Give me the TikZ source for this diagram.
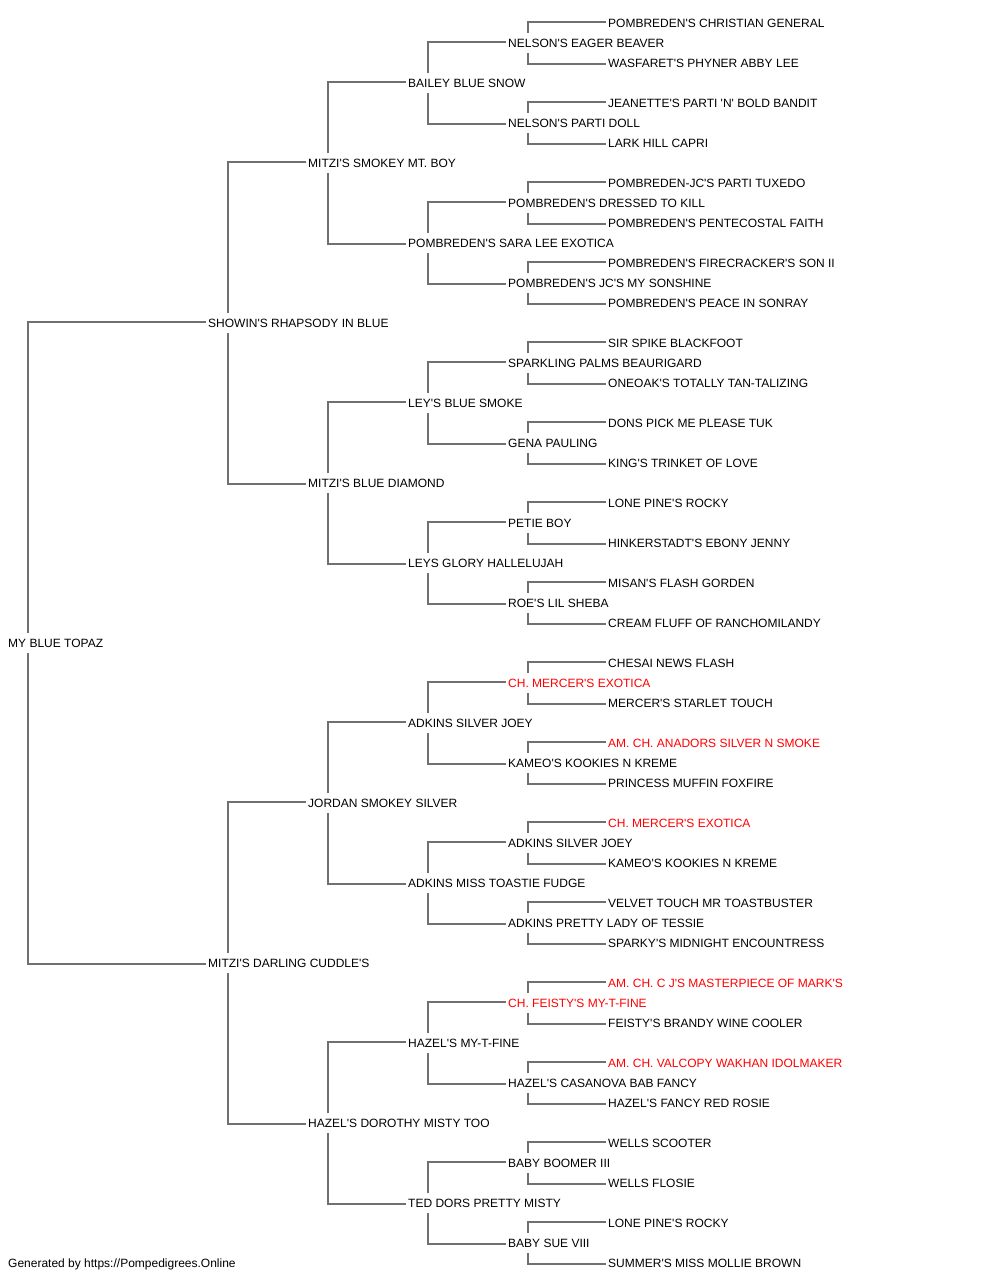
\documentclass[tikz,border=0pt]{standalone}
\usepackage{fontspec}
\setmainfont{Liberation Sans}
\newcommand\apos{\XeTeXglyph\XeTeXglyphindex "quotesingle"\relax}
\begin{document}
\begin{tikzpicture}[x=1pt,y=-1pt,
  dog/.style={anchor=west,inner sep=0pt,text height=8.6pt,text depth=0pt,font=\fontsize{12pt}{14pt}\selectfont},
  champ/.style={dog,text={rgb,255:red,255;green,0;blue,0}},
  conn/.style={draw={rgb,255:red,112;green,112;blue,112},line width=1.1pt}]
\useasboundingbox (0,0) rectangle (1000,1280);
% generation 0
\node[dog] (n0-1) at (8,643) {MY BLUE TOPAZ};
% generation 1
\node[dog] (n1-1) at (208,323) {SHOWIN\apos S RHAPSODY IN BLUE};
\node[dog] (n1-2) at (208,963) {MITZI\apos S DARLING CUDDLE\apos S};
% generation 2
\node[dog] (n2-1) at (308,163) {MITZI\apos S SMOKEY MT. BOY};
\node[dog] (n2-2) at (308,483) {MITZI\apos S BLUE DIAMOND};
\node[dog] (n2-3) at (308,803) {JORDAN SMOKEY SILVER};
\node[dog] (n2-4) at (308,1123) {HAZEL\apos S DOROTHY MISTY TOO};
% generation 3
\node[dog] (n3-1) at (408,83) {BAILEY BLUE SNOW};
\node[dog] (n3-2) at (408,243) {POMBREDEN\apos S SARA LEE EXOTICA};
\node[dog] (n3-3) at (408,403) {LEY\apos S BLUE SMOKE};
\node[dog] (n3-4) at (408,563) {LEYS GLORY HALLELUJAH};
\node[dog] (n3-5) at (408,723) {ADKINS SILVER JOEY};
\node[dog] (n3-6) at (408,883) {ADKINS MISS TOASTIE FUDGE};
\node[dog] (n3-7) at (408,1043) {HAZEL\apos S MY-T-FINE};
\node[dog] (n3-8) at (408,1203) {TED DORS PRETTY MISTY};
% generation 4
\node[dog] (n4-1) at (508,43) {NELSON\apos S EAGER BEAVER};
\node[dog] (n4-2) at (508,123) {NELSON\apos S PARTI DOLL};
\node[dog] (n4-3) at (508,203) {POMBREDEN\apos S DRESSED TO KILL};
\node[dog] (n4-4) at (508,283) {POMBREDEN\apos S JC\apos S MY SONSHINE};
\node[dog] (n4-5) at (508,363) {SPARKLING PALMS BEAURIGARD};
\node[dog] (n4-6) at (508,443) {GENA PAULING};
\node[dog] (n4-7) at (508,523) {PETIE BOY};
\node[dog] (n4-8) at (508,603) {ROE\apos S LIL SHEBA};
\node[champ] (n4-9) at (508,683) {CH. MERCER\apos S EXOTICA};
\node[dog] (n4-10) at (508,763) {KAMEO\apos S KOOKIES N KREME};
\node[dog] (n4-11) at (508,843) {ADKINS SILVER JOEY};
\node[dog] (n4-12) at (508,923) {ADKINS PRETTY LADY OF TESSIE};
\node[champ] (n4-13) at (508,1003) {CH. FEISTY\apos S MY-T-FINE};
\node[dog] (n4-14) at (508,1083) {HAZEL\apos S CASANOVA BAB FANCY};
\node[dog] (n4-15) at (508,1163) {BABY BOOMER III};
\node[dog] (n4-16) at (508,1243) {BABY SUE VIII};
% generation 5
\node[dog] (n5-1) at (608,23) {POMBREDEN\apos S CHRISTIAN GENERAL};
\node[dog] (n5-2) at (608,63) {WASFARET\apos S PHYNER ABBY LEE};
\node[dog] (n5-3) at (608,103) {JEANETTE\apos S PARTI \apos N\apos{} BOLD BANDIT};
\node[dog] (n5-4) at (608,143) {LARK HILL CAPRI};
\node[dog] (n5-5) at (608,183) {POMBREDEN-JC\apos S PARTI TUXEDO};
\node[dog] (n5-6) at (608,223) {POMBREDEN\apos S PENTECOSTAL FAITH};
\node[dog] (n5-7) at (608,263) {POMBREDEN\apos S FIRECRACKER\apos S SON II};
\node[dog] (n5-8) at (608,303) {POMBREDEN\apos S PEACE IN SONRAY};
\node[dog] (n5-9) at (608,343) {SIR SPIKE BLACKFOOT};
\node[dog] (n5-10) at (608,383) {ONEOAK\apos S TOTALLY TAN-TALIZING};
\node[dog] (n5-11) at (608,423) {DONS PICK ME PLEASE TUK};
\node[dog] (n5-12) at (608,463) {KING\apos S TRINKET OF LOVE};
\node[dog] (n5-13) at (608,503) {LONE PINE\apos S ROCKY};
\node[dog] (n5-14) at (608,543) {HINKERSTADT\apos S EBONY JENNY};
\node[dog] (n5-15) at (608,583) {MISAN\apos S FLASH GORDEN};
\node[dog] (n5-16) at (608,623) {CREAM FLUFF OF RANCHOMILANDY};
\node[dog] (n5-17) at (608,663) {CHESAI NEWS FLASH};
\node[dog] (n5-18) at (608,703) {MERCER\apos S STARLET TOUCH};
\node[champ] (n5-19) at (608,743) {AM. CH. ANADORS SILVER N SMOKE};
\node[dog] (n5-20) at (608,783) {PRINCESS MUFFIN FOXFIRE};
\node[champ] (n5-21) at (608,823) {CH. MERCER\apos S EXOTICA};
\node[dog] (n5-22) at (608,863) {KAMEO\apos S KOOKIES N KREME};
\node[dog] (n5-23) at (608,903) {VELVET TOUCH MR TOASTBUSTER};
\node[dog] (n5-24) at (608,943) {SPARKY\apos S MIDNIGHT ENCOUNTRESS};
\node[champ] (n5-25) at (608,983) {AM. CH. C J\apos S MASTERPIECE OF MARK\apos S};
\node[dog] (n5-26) at (608,1023) {FEISTY\apos S BRANDY WINE COOLER};
\node[champ] (n5-27) at (608,1063) {AM. CH. VALCOPY WAKHAN IDOLMAKER};
\node[dog] (n5-28) at (608,1103) {HAZEL\apos S FANCY RED ROSIE};
\node[dog] (n5-29) at (608,1143) {WELLS SCOOTER};
\node[dog] (n5-30) at (608,1183) {WELLS FLOSIE};
\node[dog] (n5-31) at (608,1223) {LONE PINE\apos S ROCKY};
\node[dog] (n5-32) at (608,1263) {SUMMER\apos S MISS MOLLIE BROWN};
% footer
\node[dog] (footer) at (8,1263) {Generated by https://Pompedigrees.Online};
% connectors
\foreach \g in {0,...,4} {
  \pgfmathtruncatemacro\nn{2^\g}
  \pgfmathtruncatemacro\h{\g+1}
  \foreach \i in {1,...,\nn} {
    \pgfmathtruncatemacro\a{2*\i-1}
    \pgfmathtruncatemacro\b{2*\i}
    \draw[conn] ([shift={(20pt,10pt)}]n\g-\i.west) |- ([shift={(-2pt,1pt)}]n\h-\a.west);
    \draw[conn] ([shift={(20pt,-10pt)}]n\g-\i.west) |- ([shift={(-2pt,-1pt)}]n\h-\b.west);
  }
}
\end{tikzpicture}
\end{document}
